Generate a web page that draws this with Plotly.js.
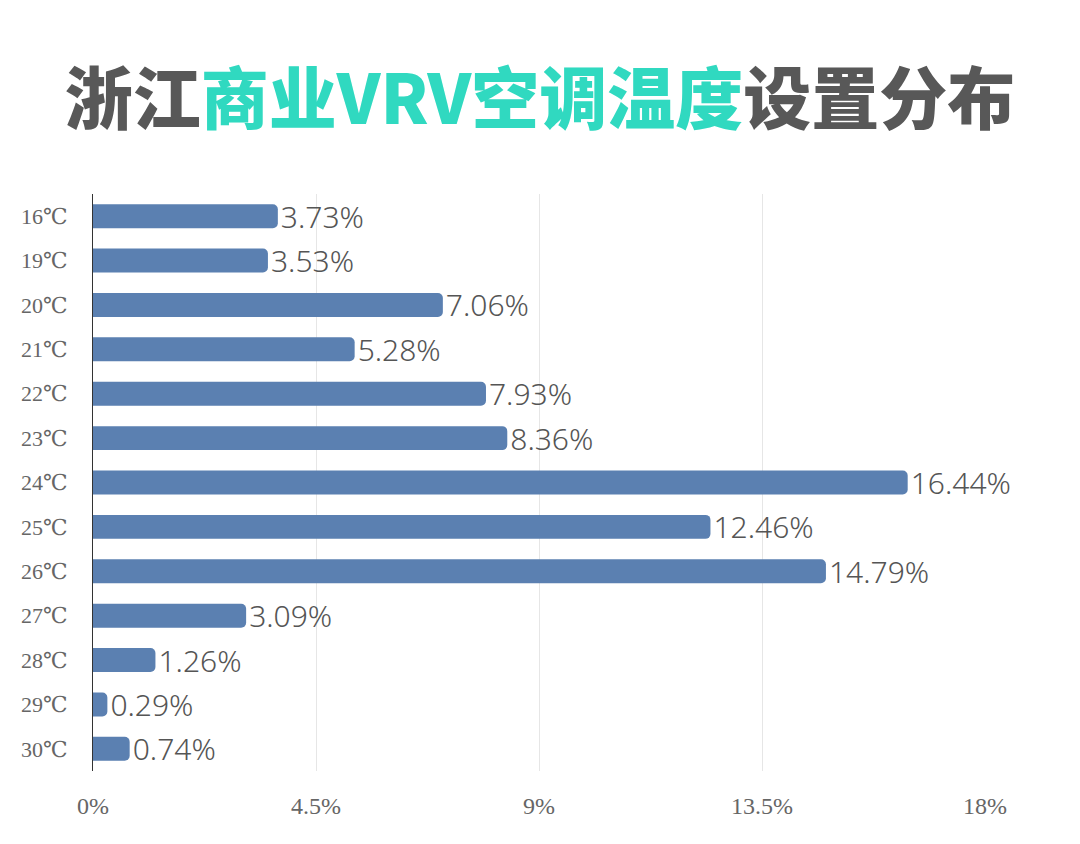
<!DOCTYPE html>
<html>
<head>
<meta charset="utf-8">
<script src="https://cdn.plot.ly/plotly-3.0.1.min.js"></script>
<style>
  html, body { margin: 0; padding: 0; background: #fff; }
  #chart { width: 1080px; height: 844px; }
</style>
</head>
<body>
<div id="chart"></div>
<script>
// temperature settings, top to bottom
var temps = ['16℃', '19℃', '20℃', '21℃', '22℃', '23℃', '24℃', '25℃', '26℃', '27℃', '28℃', '29℃', '30℃'];
var shares = [3.73, 3.53, 7.06, 5.28, 7.93, 8.36, 16.44, 12.46, 14.79, 3.09, 1.26, 0.29, 0.74];
var xTicks = [0, 4.5, 9, 13.5, 18];
var xTickText = ['0%', '4.5%', '9%', '13.5%', '18%'];

var labels = shares.map(function (v) { return v.toFixed(2) + '%'; });

var trace = {
    type: 'bar',
    orientation: 'h',
    x: shares,
    y: temps,
    text: labels,
    textposition: 'outside',
    constraintext: 'none',
    cliponaxis: false,
    textfont: {family: 'Noto Sans, Open Sans, sans-serif', size: 30, color: '#555', weight: 300},
    marker: {color: '#5b80b1'},
    width: 0.54,
    hoverinfo: 'none'
};

var layout = {
    width: 1080,
    height: 844,
    paper_bgcolor: '#fff',
    plot_bgcolor: '#fff',
    showlegend: false,
    barcornerradius: 5,
    margin: {l: 93, r: 95, t: 194, b: 73, pad: 0},
    title: {
        text: '浙江<span style="color:#30d9c0">商业VRV空调温度</span>设置分布',
        x: 0.5,
        xanchor: 'center',
        y: 0.881,
        yanchor: 'middle',
        font: {family: 'Noto Sans CJK SC, sans-serif', size: 68, color: '#585858', weight: 900}
    },
    xaxis: {
        range: [0, 18],
        tickvals: xTicks,
        ticktext: xTickText,
        showgrid: true,
        gridcolor: '#e6e6e6',
        gridwidth: 1,
        zeroline: false,
        showline: false,
        ticks: '',
        ticklabelstandoff: 18,
        tickfont: {family: 'Liberation Serif, DejaVu Serif, serif', size: 24, color: '#666'},
        fixedrange: true
    },
    yaxis: {
        type: 'category',
        autorange: 'reversed',
        showline: true,
        linecolor: '#333',
        linewidth: 1,
        showgrid: false,
        zeroline: false,
        ticks: '',
        ticklabelstandoff: 20,
        tickfont: {family: 'Liberation Serif, DejaVu Serif, serif', size: 22, color: '#666'},
        fixedrange: true
    }
};

Plotly.newPlot('chart', [trace], layout, {staticPlot: true});
</script>
</body>
</html>
